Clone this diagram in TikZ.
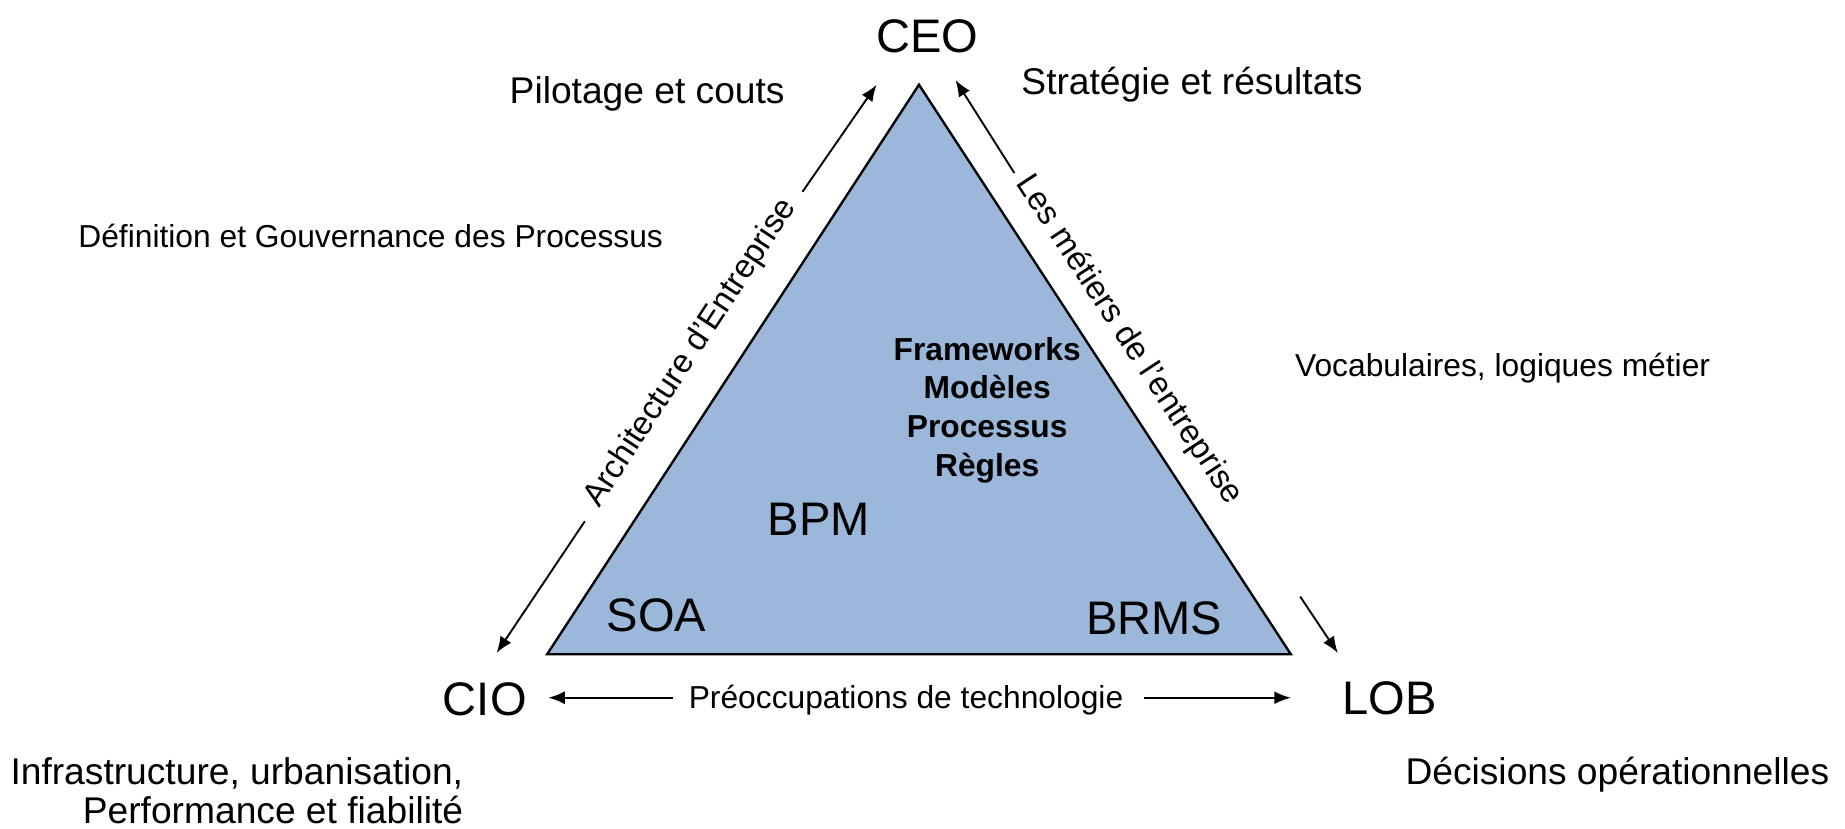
\documentclass[tikz,border=0pt]{standalone}
\usepackage{fontspec}
\setmainfont{Liberation Sans}
\usetikzlibrary{arrows.meta}
\definecolor{trifill}{HTML}{9BB7DA}
\tikzset{
  big/.style={font=\fontsize{20}{24}\selectfont, inner sep=0pt, anchor=base},
  mid/.style={font=\fontsize{15.8}{19}\selectfont, inner sep=0pt, anchor=base},
  small/.style={font=\fontsize{13.5}{16}\selectfont, inner sep=0pt, anchor=base},
  slab/.style={font=\fontsize{14}{17}\selectfont, inner sep=0pt, anchor=center},
  conn/.style={line width=0.8pt, -{Latex[length=7pt,width=5.5pt]}},
}
\begin{document}
\begin{tikzpicture}[x=0.5pt,y=-0.5pt]
\useasboundingbox (0,0) rectangle (1568,704);
% triangle
\coordinate (apex) at (781,72);
\coordinate (bl) at (465,556);
\coordinate (br) at (1097,556);
\filldraw[fill=trifill, draw=black, line width=1pt, line join=miter] (apex) -- (bl) -- (br) -- cycle;
% corner labels
\node[big] (ceo) at (788,45) {CEO};
\node[big] (cio) at (412,608) {CIO};
\node[big] (lob) at (1181,607) {LOB};
% inner labels
\node[big] (bpm) at (696,455) {BPM};
\node[big] (soa) at (558,537) {SOA};
\node[big] (brms) at (981,539) {BRMS};
\node[font=\fontsize{13.5}{16.5}\selectfont\bfseries, align=center, inner sep=0pt, anchor=north] (fw) at (839,286) {Frameworks\\Modèles\\Processus\\Règles};
% outer labels
\node[mid] (pil) at (550,88) {Pilotage et couts};
\node[mid] (strat) at (1013,80) {Stratégie et résultats};
\node[small] (def) at (315,210) {Définition et Gouvernance des Processus};
\node[small] (voc) at (1277,320) {Vocabulaires, logiques métier};
\node[mid, anchor=base east] (infra) at (394,667) {Infrastructure, urbanisation,};
\node[mid, anchor=base east] (perf) at (394,700) {Performance et fiabilité};
\node[mid, anchor=base east] (dec) at (1555,667) {Décisions opérationnelles};
% side labels
\node[slab, rotate=56.8] (archi) at (587,300) {Architecture d'Entreprise};
\node[slab, rotate=-56.7] (metiers) at (959,289) {Les métiers de l'entreprise};
\node[small] (preo) at (770,602) {Préoccupations de technologie};
% connector ends
\coordinate (lTop) at (745,72);
\coordinate (lUp) at (682,163);
\coordinate (lLow) at (497,443);
\coordinate (lBot) at (422,555);
\coordinate (rTop) at (812,68);
\coordinate (rUp) at (862,147);
\coordinate (rLow) at (1105,507);
\coordinate (rBot) at (1137,555);
\coordinate (bL) at (466,593);
\coordinate (bLs) at (572,593);
\coordinate (bRs) at (972,593);
\coordinate (bR) at (1097,593);
% connectors
\draw[conn] (lUp) -- (lTop);
\draw[conn] (lLow) -- (lBot);
\draw[conn] (rUp) -- (rTop);
\draw[conn] (rLow) -- (rBot);
\draw[conn] (bLs) -- (bL);
\draw[conn] (bRs) -- (bR);
\end{tikzpicture}
\end{document}
